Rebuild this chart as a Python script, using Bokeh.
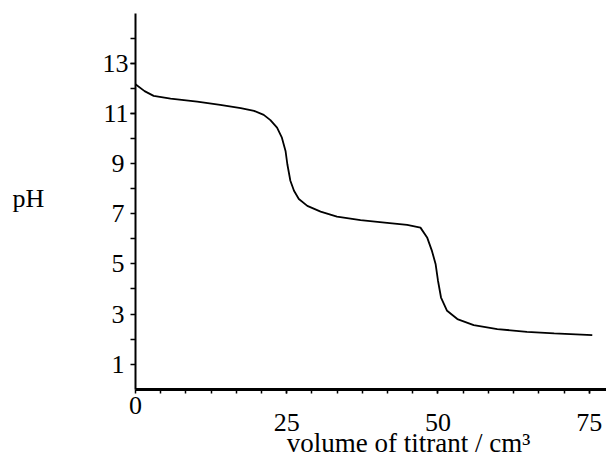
from bokeh.plotting import figure
from bokeh.models import FixedTicker, Label, Range1d, LinearAxis
from bokeh.embed import file_html
from bokeh.resources import INLINE

# titration curve
volume = [0.0, 1.5, 3.0, 5.8, 10.2, 14.0, 17.4, 19.6, 21.2, 22.3, 23.4, 24.2, 24.8, 25.1,
          25.6, 26.2, 27.0, 28.4, 30.6, 33.3, 37.2, 41.6, 44.9, 47.1, 48.2, 49.0,
          49.6, 50.0, 50.5, 51.5, 53.2, 55.9, 59.8, 64.7, 69.2, 75.5]
ph = [12.17, 11.90, 11.71, 11.60, 11.48, 11.35, 11.22, 11.11, 10.95, 10.74, 10.44, 10.04, 9.51, 8.98,
      8.32, 7.92, 7.59, 7.32, 7.09, 6.89, 6.75, 6.64, 6.56, 6.45, 6.06, 5.52,
      5.0, 4.33, 3.66, 3.13, 2.80, 2.56, 2.40, 2.29, 2.23, 2.16]

x_origin_tick = [0]
x_major = [25, 50, 75]
x_minor = [k * 25 / 6 for k in range(19)]
y_major_two_digit = [11, 13]
y_major_one_digit = [1, 3, 5, 7, 9]
y_minor = list(range(1, 15))

x_title = "volume of titrant / cm\u00b3"
y_title = "pH"

FONT = "Liberation Serif"
SIZE = "26px"

X_MAX = 77.85
Y_MAX = 15

p = figure(width=606, height=457, x_range=Range1d(-22.31, X_MAX), y_range=Range1d(-2.727, 15.517),
           output_backend="svg", toolbar_location=None,
           min_border_left=0, min_border_right=0, min_border_top=0, min_border_bottom=0)
p.outline_line_color = None
p.xgrid.visible = False
p.ygrid.visible = False
p.background_fill_color = "white"
p.border_fill_color = "white"

p.line(volume, ph, line_color="black", line_width=1.8)


def style_axis(ax, ticks, minor, standoff, bounds, width, tick_len, line=True):
    ax.fixed_location = 0
    ax.bounds = bounds
    ax.ticker = FixedTicker(ticks=ticks, minor_ticks=minor)
    ax.axis_line_width = width
    ax.axis_line_color = "black" if line else None
    ax.major_tick_in = 0
    ax.major_tick_out = tick_len
    ax.minor_tick_in = 0
    ax.minor_tick_out = tick_len
    ax.major_tick_line_width = 1.5
    ax.minor_tick_line_width = 1.5
    if not line:
        ax.major_tick_line_color = None
        ax.minor_tick_line_color = None
    ax.major_label_standoff = standoff
    ax.major_label_text_font = FONT
    ax.major_label_text_font_size = SIZE
    ax.major_label_text_color = "black"


# x axis at pH 0: 25/50/75 labels, and a raised "0" label
style_axis(p.xaxis[0], x_major, x_minor, 21, (0, X_MAX), 3, 4)
x0 = LinearAxis()
style_axis(x0, x_origin_tick, [], 4, (0, X_MAX), 3, 4, line=False)
p.add_layout(x0, "below")

# y axis at volume 0: two-digit and one-digit labels
style_axis(p.yaxis[0], y_major_two_digit, y_minor, 2, (0, Y_MAX), 2, 5)
y1 = LinearAxis()
style_axis(y1, y_major_one_digit, [], 6, (0, Y_MAX), 2, 5, line=False)
p.add_layout(y1, "left")

# axis titles
p.add_layout(Label(x=-20.33, y=7.6, text=y_title, text_align="left", text_baseline="middle",
                   text_font=FONT, text_font_size=SIZE, text_color="black"))
p.add_layout(Label(x=x_major[0], y=0, text=x_title, text_align="left", text_baseline="alphabetic",
                   y_offset=-54, text_font=FONT, text_font_size="27px", text_color="black"))

open("out.html", "w").write(file_html(p, INLINE))
